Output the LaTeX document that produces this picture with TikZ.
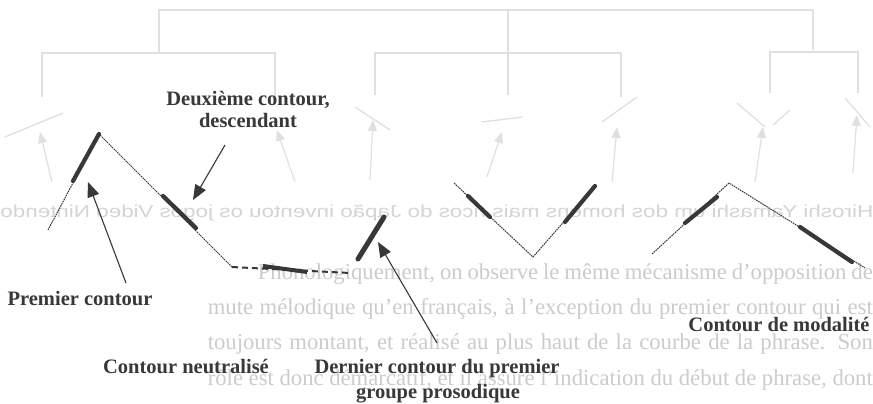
\documentclass[tikz,border=0pt]{standalone}
\usepackage{fontspec}
\setmainfont{Liberation Serif}
\newfontfamily\bleedsans{Liberation Sans}
\usetikzlibrary{arrows.meta}
\definecolor{ink}{gray}{0.22}
\definecolor{faintline}{gray}{0.88}
\definecolor{fainttext}{gray}{0.80}
\definecolor{faintsans}{gray}{0.83}
\tikzset{
  lbl/.style={font=\fontsize{20.5}{21}\selectfont\bfseries, text=ink, inner sep=0pt, anchor=base},
  contourline/.style={draw=ink, line width=1pt, dash pattern=on 1.6pt off 0.8pt},
  thickseg/.style={draw=ink, line width=4.2pt, line cap=round},
  neutraldash/.style={draw=ink, line width=2pt, dash pattern=on 6pt off 4pt},
  pointer/.style={draw=ink, line width=1.1pt, -{Triangle[length=15pt,width=12pt]}},
  treeline/.style={draw=faintline, line width=1.3pt},
  faintarrow/.style={draw=faintline, line width=1.2pt, -{Triangle[length=11pt,width=9pt]}},
  bleed/.style={text=fainttext, inner sep=0pt, font=\fontsize{22.7}{30}\selectfont},
}
\begin{document}
\begin{tikzpicture}[x=1pt,y=-1pt]
\useasboundingbox (0,0) rectangle (873,404);
\fill[white] (0,0) rectangle (873,404);
\clip (0,0) rectangle (873,404);

% ---------- show-through from the other page ----------
\node[inner sep=0pt, text=faintsans, anchor=base west] (bl0) at (0,217)
  {\reflectbox{\resizebox{873pt}{12.5pt}{\bleedsans Hiroshi Yamashi um dos homens mais ricos do Japão inventou os jogos Video Nintendo}}};
\node[bleed, anchor=base east] (bl1) at (873,279)
  {\makebox[615pt][s]{Phonologiquement, on observe le même mécanisme d'opposition de}};
\node[bleed, anchor=base east] (bl2) at (873,314)
  {\makebox[665pt][s]{mute mélodique qu'en français, à l'exception du premier contour qui est}};
\node[bleed, anchor=base east] (bl3) at (873,349)
  {\makebox[665pt][s]{toujours montant, et réalisé au plus haut de la courbe de la phrase. Son}};
\node[bleed, anchor=base east] (bl4) at (873,385)
  {\makebox[665pt][s]{rôle est donc démarcatif, et il assure l'indication du début de phrase, dont}};

\draw[treeline] (159,53) -- (159,10) -- (813,10) -- (813,50);
\draw[treeline] (508,10) -- (508,95);
\draw[treeline] (42,97) -- (42,53) -- (275,53) -- (275,100);
\draw[treeline] (375,95) -- (375,53) -- (621,53) -- (621,97);
\draw[treeline] (770,93) -- (770,52) -- (858,52) -- (858,93);

\coordinate (f1a) at (5,137);   \coordinate (f1b) at (63,113);
\coordinate (f1t) at (52,182);  \coordinate (f1h) at (40,132);
\coordinate (f2t) at (295,182); \coordinate (f2h) at (277,130);
\coordinate (f3a) at (355,107); \coordinate (f3b) at (390,130);
\coordinate (f3t) at (370,180); \coordinate (f3h) at (373,120);
\coordinate (f4a) at (482,122); \coordinate (f4b) at (523,117);
\coordinate (f4t) at (487,177); \coordinate (f4h) at (502,132);
\coordinate (f5a) at (602,122); \coordinate (f5b) at (637,97);
\coordinate (f5t) at (612,182); \coordinate (f5h) at (617,127);
\coordinate (f6a) at (737,103); \coordinate (f6b) at (765,127);
\coordinate (f6c) at (790,110); \coordinate (f6d) at (773,125);
\coordinate (f6t) at (755,182); \coordinate (f6h) at (763,127);
\coordinate (f7a) at (845,98);  \coordinate (f7b) at (870,127);
\coordinate (f7t) at (853,173); \coordinate (f7h) at (857,115);
\draw[treeline] (f1a) -- (f1b);
\draw[treeline] (f3a) -- (f3b);
\draw[treeline] (f4a) -- (f4b);
\draw[treeline] (f5a) -- (f5b);
\draw[treeline] (f6a) -- (f6b);
\draw[treeline] (f6c) -- (f6d);
\draw[treeline] (f7a) -- (f7b);
\draw[faintarrow] (f1t) -- (f1h);
\draw[faintarrow] (f2t) -- (f2h);
\draw[faintarrow] (f3t) -- (f3h);
\draw[faintarrow] (f4t) -- (f4h);
\draw[faintarrow] (f5t) -- (f5h);
\draw[faintarrow] (f6t) -- (f6h);
\draw[faintarrow] (f7t) -- (f7h);

% ---------- contour 1 ----------
\coordinate (c1s) at (48,230);
\coordinate (c1a) at (73,181);
\coordinate (c1p) at (99,134);
\coordinate (c1b) at (163,196);
\coordinate (c1c) at (196,228);
\coordinate (c1v) at (232,267);
\coordinate (c1d) at (263,266);
\coordinate (c1e) at (307,272);
\coordinate (c1f) at (350,273);
\draw[contourline] (c1s) -- (c1p) -- (c1v);
\draw[thickseg] (c1a) -- (c1p);
\draw[thickseg] (c1b) -- (c1c);
\draw[neutraldash] (c1v) -- (c1f);
\draw[draw=ink, line width=4pt] (c1d) -- (c1e);

% ---------- contour 2 (last of first group) ----------
\coordinate (c2a) at (358,259);
\coordinate (c2b) at (384,217);
\draw[thickseg, line width=5pt] (c2a) -- (c2b);

% ---------- contour 3 (V) ----------
\coordinate (c3s) at (454,183);
\coordinate (c3a) at (468,196);
\coordinate (c3b) at (490,217);
\coordinate (c3v) at (533,257);
\coordinate (c3c) at (565,222);
\coordinate (c3e) at (595,186);
\draw[contourline] (c3s) -- (c3v) -- (c3e);
\draw[thickseg] (c3a) -- (c3b);
\draw[thickseg] (c3c) -- (c3e);

% ---------- contour 4 (modalité) ----------
\coordinate (c4s) at (652,254);
\coordinate (c4a) at (685,223);
\coordinate (c4b) at (717,197);
\coordinate (c4p) at (729,183);
\coordinate (c4c) at (800,227);
\coordinate (c4d) at (852,262);
\coordinate (c4e) at (865,268);
\draw[contourline] (c4s) -- (c4p) -- (c4e);
\draw[thickseg] (c4a) -- (c4b);
\draw[thickseg] (c4c) -- (c4d);

% ---------- labels ----------
\node[lbl] (deux1) at (248,106) {Deuxième contour,};
\node[lbl] (deux2) at (248,127) {descendant};
\node[lbl] (prem) at (80,305) {Premier contour};
\node[lbl] (neut) at (186,373) {Contour neutralisé};
\node[lbl] (dern1) at (437,373) {Dernier contour du premier};
\node[lbl] (dern2) at (438,398) {groupe prosodique};
\node[lbl] (moda) at (779,331) {Contour de modalité};

% ---------- pointers ----------
\coordinate (p1t) at (225,145); \coordinate (p1h) at (193,200);
\coordinate (p2t) at (126,283); \coordinate (p2h) at (88,182);
\coordinate (p3t) at (437,343); \coordinate (p3h) at (378,242);
\draw[pointer] (p1t) -- (p1h);
\draw[pointer] (p2t) -- (p2h);
\draw[pointer] (p3t) -- (p3h);
\end{tikzpicture}
\end{document}
